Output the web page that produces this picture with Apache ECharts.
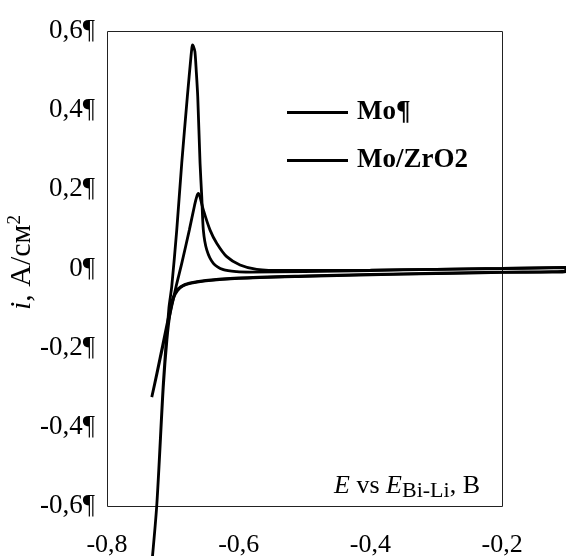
<!DOCTYPE html>
<html>
<head>
<meta charset="utf-8">
<script src="https://cdn.jsdelivr.net/npm/echarts@6/dist/echarts.min.js"></script>
<style>html,body{margin:0;padding:0;background:#fff}#c{width:566px;height:556px}</style>
</head>
<body>
<div id="c"></div>
<script>
// Mo: forward (anodic) scan then reverse scan
const moX = [-0.735,-0.7245,-0.7145,-0.706,-0.7017,-0.6941,-0.6865,-0.678,-0.6725,-0.6712,-0.6702,-0.6690,-0.6665,-0.6645,-0.6622,-0.6587,-0.6561,-0.6537,-0.6485,-0.6385,-0.6233,-0.603,-0.583,-0.5,-0.4,-0.3,-0.2,-0.103,
             -0.103,-0.2,-0.3,-0.4,-0.5,-0.6,-0.65,-0.672,-0.685,-0.693,-0.699,-0.704,-0.709,-0.7145,-0.7245,-0.735];
const moY = [-0.80,-0.60,-0.29,-0.10,-0.046,0.097,0.266,0.434,0.535,0.556,0.565,0.562,0.548,0.50,0.434,0.266,0.181,0.097,0.047,0.013,-0.003,-0.008,-0.009,-0.008,-0.005,-0.002,0.0,0.002,
             -0.008,-0.010,-0.013,-0.016,-0.020,-0.025,-0.031,-0.037,-0.044,-0.056,-0.075,-0.11,-0.18,-0.30,-0.60,-0.80];
// Mo/ZrO2
const zrX = [-0.732,-0.724,-0.715,-0.705,-0.6952,-0.6865,-0.675,-0.667,-0.6635,-0.6613,-0.659,-0.6537,-0.6435,-0.6334,-0.6182,-0.598,-0.5726,-0.53,-0.4,-0.3,-0.2,-0.103,
             -0.103,-0.2,-0.3,-0.4,-0.5,-0.6,-0.65,-0.675,-0.688,-0.696,-0.701,-0.705,-0.715,-0.724,-0.732];
const zrY = [-0.325,-0.265,-0.195,-0.12,-0.046,0.013,0.097,0.16,0.183,0.19,0.182,0.148,0.097,0.064,0.030,0.009,-0.002,-0.005,-0.004,-0.002,0.0,0.003,
             -0.006,-0.009,-0.012,-0.015,-0.019,-0.024,-0.030,-0.037,-0.046,-0.060,-0.080,-0.11,-0.19,-0.262,-0.325];
const seriesNames = ['Mo', 'Mo/ZrO2'];
const legendLabels = ['Mo¶', 'Mo/ZrO2'];
const xTicks = [-0.8, -0.6, -0.4, -0.2];
const yTicks = [-0.6, -0.4, -0.2, 0, 0.2, 0.4, 0.6];
const xDataEnd = -0.103;   // curves continue past the framed area

const pairs = (xs, ys) => xs.map((x, i) => [x, ys[i]]);
const fmt = v => (Math.abs(v) < 1e-9 ? '0' : v.toFixed(1).replace('.', ','));
const isTick = (v, arr) => arr.some(t => Math.abs(t - v) < 1e-6);
const FONT = '"Liberation Serif", "Times New Roman", serif';

const chart = echarts.init(document.getElementById('c'), null, {renderer: 'canvas'});
chart.setOption({
  animation: false,
  backgroundColor: '#fff',
  grid: {left: 107, top: 31, right: 0, bottom: 50, show: false, containLabel: false, outerBoundsMode: 'none'},
  legend: {
    left: 287, top: 99, padding: 0, orient: 'vertical', icon: 'rect', itemWidth: 61, itemHeight: 3, itemGap: 21,
    data: seriesNames,
    formatter: n => legendLabels[seriesNames.indexOf(n)],
    textStyle: {fontFamily: FONT, fontSize: 27, fontWeight: 'bold', color: '#000', padding: [0, 0, 0, 4]}
  },
  xAxis: {
    type: 'value', min: xTicks[0], max: xDataEnd, interval: 0.2,
    axisLine: {show: false}, axisTick: {show: false}, splitLine: {show: false},
    axisLabel: {margin: 26, fontFamily: FONT, fontSize: 26, color: '#000',
      formatter: v => (isTick(v, xTicks) ? fmt(v) : ''), showMinLabel: true, showMaxLabel: false}
  },
  yAxis: {
    type: 'value', min: yTicks[0], max: yTicks[yTicks.length - 1], interval: 0.2,
    axisLine: {show: false}, axisTick: {show: false}, splitLine: {show: false},
    axisLabel: {margin: 12, fontFamily: FONT, fontSize: 27, color: '#000', formatter: v => fmt(v) + '¶', showMinLabel: true, showMaxLabel: true},
    name: '{it|i}, A/cм{sup|2}', nameLocation: 'middle', nameGap: 68, nameRotate: 90, nameMoveOverlap: false,
    nameTextStyle: {fontFamily: FONT, fontSize: 30, color: '#000', padding: [0, 0, 0, 12],
      rich: {it: {fontFamily: FONT, fontSize: 30, fontStyle: 'italic', color: '#000'},
             sup: {fontFamily: FONT, fontSize: 19, color: '#000', padding: [0, 0, 14, 0]}}}
  },
  series: [
    {name: seriesNames[0], type: 'line', data: pairs(moX, moY), showSymbol: false, symbol: 'none', smooth: 0.25, clip: false,
     lineStyle: {color: '#000', width: 2.8}, itemStyle: {color: '#000'}},
    {name: seriesNames[1], type: 'line', data: pairs(zrX, zrY), showSymbol: false, symbol: 'none', smooth: 0.25, clip: false,
     lineStyle: {color: '#000', width: 2.8}, itemStyle: {color: '#000'}}
  ]
});

// frame of the plot area, from the axes' own scales
const p0 = chart.convertToPixel({gridIndex: 0}, [xTicks[0], yTicks[yTicks.length - 1]]);
const p1 = chart.convertToPixel({gridIndex: 0}, [xTicks[xTicks.length - 1], yTicks[0]]);
chart.setOption({
  graphic: [
    {type: 'rect', silent: true, z: 0,
     shape: {x: Math.round(p0[0]) + 0.5, y: Math.round(p0[1]) + 0.5, width: Math.round(p1[0] - p0[0]), height: Math.round(p1[1] - p0[1])},
     style: {fill: 'none', stroke: '#222', lineWidth: 1}},
    {type: 'text', silent: true, z: 10,
     x: Math.round(p1[0]) - 22, y: Math.round(p1[1]) - 4,
     style: {
       text: '{it|E} vs {it|E}{sub|Bi-Li}, В',
       align: 'right', verticalAlign: 'bottom',
       fontFamily: FONT, fontSize: 26, fill: '#000',
       rich: {it: {fontFamily: FONT, fontSize: 26, fontStyle: 'italic', fill: '#000'},
              sub: {fontFamily: FONT, fontSize: 22, fill: '#000', padding: [9, 0, 0, 0]}}
     }}
  ]
});
</script>
</body>
</html>
